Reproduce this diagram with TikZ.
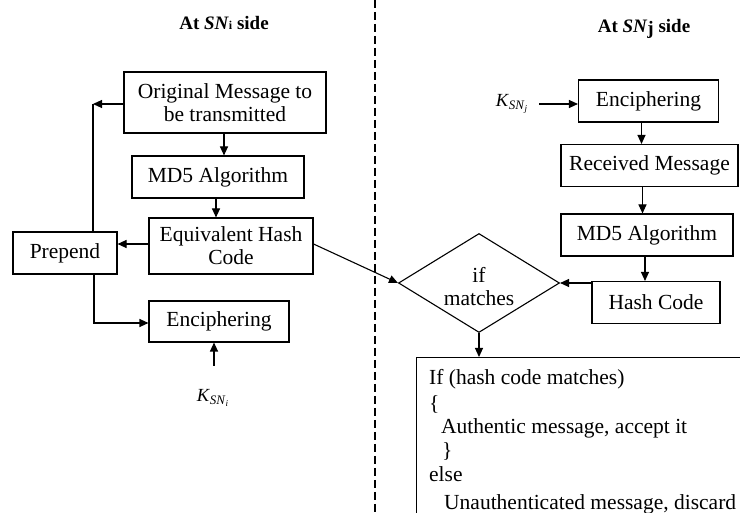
\documentclass[tikz,border=0pt]{standalone}
\usepackage{fontspec}
\setmainfont{Liberation Serif}
\usetikzlibrary{arrows.meta,shapes.geometric,calc}
\begin{document}
\begin{tikzpicture}[x=1pt,y=-1pt,
  box/.style={draw, line width=1.1pt, inner sep=0pt, align=center,
    font=\fontsize{21.5}{23}\selectfont},
  arr/.style={line width=1.1pt, -{Triangle[length=9pt,width=8pt]}},
  ln/.style={line width=1.1pt},
  title/.style={font=\fontsize{19}{22}\selectfont\bfseries, inner sep=0pt},
  key/.style={font=\fontsize{18.5}{20}\selectfont, inner sep=0pt},
  txt/.style={font=\fontsize{21.5}{23}\selectfont, inner sep=0pt, anchor=base west}]
\useasboundingbox (0,0) rectangle (740,513);
\clip (0,0) rectangle (740,513);

% side separator
\draw[line width=1.1pt, dash pattern=on 8pt off 4pt] (375,0) -- (375,513);

% headings
\node[title] (hi) at (224,23) {At \textit{SN}{\fontsize{12}{12}\selectfont i} side};
\node[title] (hj) at (644,29) {At \textit{SN}\raisebox{-0.15ex}{j} side};

% sender side
\node[box, minimum width=202pt, minimum height=61pt] (orig) at (225,102.5) {Original Message to\\be transmitted};
\node[box, minimum width=172pt, minimum height=42pt] (md5i) at (218,177) {MD5 Algorithm};
\node[box, minimum width=164pt, minimum height=56pt] (eqh) at (231,246) {Equivalent Hash\\Code};
\node[box, minimum width=104pt, minimum height=42pt] (prep) at (65,253) {Prepend};
\node[box, minimum width=140pt, minimum height=41pt] (enci) at (219,321.5) {Enciphering};
\node[key] (ki) at (213,398) {\textit{K}\textsubscript{\textit{SN}\textsubscript{\textit{i}}}};

% receiver side
\node[box, minimum width=140pt, minimum height=42pt] (encj) at (648.5,101) {Enciphering};
\node[box, minimum width=177pt, minimum height=42pt] (recv) at (649.5,165.5) {Received Message};
\node[box, minimum width=172pt, minimum height=42pt] (md5j) at (647,235) {MD5 Algorithm};
\node[box, minimum width=128pt, minimum height=42pt] (hash) at (656,302.5) {Hash Code};
\node[key] (kj) at (512,104) {\textit{K}\textsubscript{\textit{SN}\textsubscript{\textit{j}}}};
\node[draw, line width=1.1pt, diamond, minimum width=161pt, minimum height=99pt, inner sep=0pt] (dec) at (479,283) {};
\node[box, draw=none] (dect) at (479,287) {if\\matches};
\node[draw, line width=1.1pt, minimum width=344pt, minimum height=183pt, anchor=north west, inner sep=0pt] (rule) at (416,357) {};

% decision text
\node[txt] (r1) at (429,385) {If (hash code matches)};
\node[txt] (r2) at (429,411) {\{};
\node[txt] (r3) at (441,434) {Authentic message, accept it};
\node[txt] (r4) at (442,457) {\}};
\node[txt] (r5) at (429,481) {else};
\node[txt] (r6) at (444,509) {Unauthenticated message, discard};

% sender connectors
\coordinate (loop) at (93,104);
\draw[arr] (orig.west |- loop) -- (loop);
\draw[ln] (prep.north -| loop) -- (loop);
\draw[arr] ([xshift=-1pt]orig.south) -- ([xshift=-1pt]orig.south |- md5i.north);
\draw[arr] ([xshift=-2pt]md5i.south) -- ([xshift=-2pt]md5i.south |- eqh.north);
\draw[arr] ([yshift=2pt]eqh.west) -- ([yshift=2pt]eqh.west -| prep.east);
\coordinate (turn) at (94,323);
\draw[arr] (prep.south -| turn) -- (turn) -- (turn -| enci.west);
\coordinate (kitail) at (214,366);
\draw[arr] (kitail) -- (kitail |- enci.south);
\draw[arr] ([yshift=2pt]eqh.east) -- (dec.west);

% receiver connectors
\coordinate (kjtail) at (539,104);
\draw[arr] (kjtail) -- (kjtail -| encj.west);
\draw[arr] ([xshift=-7pt]encj.south) -- ([xshift=-7pt]encj.south |- recv.north);
\draw[arr] ([xshift=-7pt]recv.south) -- ([xshift=-7pt]recv.south |- md5j.north);
\draw[arr] ([xshift=-2pt]md5j.south) -- ([xshift=-2pt]md5j.south |- hash.north);
\draw[arr] (hash.west |- dec.east) -- (dec.east);
\draw[arr] (dec.south) -- (dec.south |- rule.north);
\end{tikzpicture}
\end{document}
